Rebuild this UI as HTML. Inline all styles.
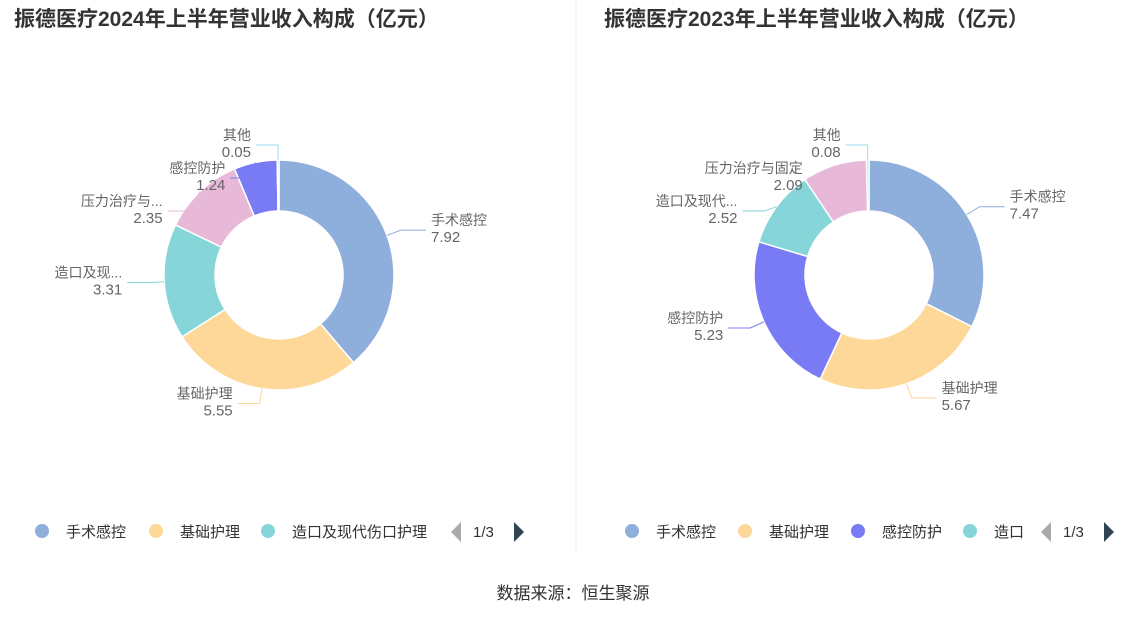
<!DOCTYPE html>
<html><head><meta charset="utf-8"><style>
body{margin:0;background:#fff;font-family:"Liberation Sans","Noto Sans CJK SC",sans-serif;}
svg{display:block}
</style></head><body>
<svg id="c" width="1147" height="619" font-family="Liberation Sans, Noto Sans CJK SC, sans-serif"></svg>
<script>
const cats2024 = ["手术感控","基础护理","造口及现代伤口护理","压力治疗与固定","感控防护","其他"];
const vals2024 = [7.92,5.55,3.31,2.35,1.24,0.05];
const short2024 = ["手术感控","基础护理","造口及现...","压力治疗与...","感控防护","其他"];
const cats2023 = ["手术感控","基础护理","感控防护","造口及现代伤口护理","压力治疗与固定","其他"];
const vals2023 = [7.47,5.67,5.23,2.52,2.09,0.08];
const short2023 = ["手术感控","基础护理","感控防护","造口及现代...","压力治疗与固定","其他"];
const colorMap = {"手术感控":"#8eaedc","基础护理":"#fdd899","造口及现代伤口护理":"#86d5d9","压力治疗与固定":"#e8b8d8","感控防护":"#797bf4","其他":"#9ddcef"};
const NS="http://www.w3.org/2000/svg";
const svg=document.getElementById('c');
function mk(t,a,p){const e=document.createElementNS(NS,t);for(const k in a)e.setAttribute(k,a[k]);(p||svg).appendChild(e);return e;}
// divider
const dv=mk('line',{x1:576,y1:0,x2:576,y2:550,stroke:'#eeeeee','stroke-width':1});


function txt(x,y,s,o){const t=mk('text',Object.assign({x:x,y:y,'font-size':14,fill:'#666'},o||{}));t.textContent=s;return t;}
function donut(cx,cy,cats,vals,shorts,name){
  const g=mk('g',{});
  
  
  const R=115,r=64,total=vals.reduce((a,b)=>a+b,0);
  let cum=0;const labs=[];
  vals.forEach((v,i)=>{
    const a0=cum/total*2*Math.PI,a1=(cum+v)/total*2*Math.PI;cum+=v;
    const P=(rad,a)=>[cx+rad*Math.sin(a),cy-rad*Math.cos(a)];
    const large=(a1-a0)>Math.PI?1:0;
    const [x0,y0]=P(R,a0),[x1,y1]=P(R,a1),[x2,y2]=P(r,a1),[x3,y3]=P(r,a0);
    const p=mk('path',{d:`M${x0},${y0}A${R},${R} 0 ${large} 1 ${x1},${y1}L${x2},${y2}A${r},${r} 0 ${large} 0 ${x3},${y3}Z`,fill:colorMap[cats[i]],stroke:'#fff','stroke-width':1.5},g);
    
    
    const am=(a0+a1)/2;const [ox,oy]=P(R,am);const [lx,ly]=P(R+15,am);
    labs.push({i,ox,oy,lx,ly,left:Math.sin(am)<0||am>Math.PI*1.9});
  });
  // overlap adjust per side, top-down
  [true,false].forEach(side=>{
    const L=labs.filter(l=>l.left===side).sort((a,b)=>a.ly-b.ly);
    for(let k=1;k<L.length;k++){if(L[k].ly<L[k-1].ly+33)L[k].ly=L[k-1].ly+33;}
  });
  labs.forEach(l=>{
    const c=colorMap[cats[l.i]];const ex=l.left?l.lx-22:l.lx+25;
    const pl=mk('polyline',{points:`${l.ox},${l.oy} ${l.lx},${l.ly} ${ex},${l.ly}`,fill:'none',stroke:c,'stroke-width':1},g);
    
    
    const tx=l.left?ex-5:ex+5,anc=l.left?'end':'start';
    const t1=txt(tx,l.ly-5,shorts[l.i],{'text-anchor':anc});
    
    
    const t2=txt(tx,l.ly+12,vals[l.i].toFixed(2),{'text-anchor':anc,'font-size':15});
    
    
  });
}
function title(x,s){const t=mk('text',{x:x,y:26,'font-size':21,'font-weight':'bold',fill:'#333'});t.textContent=s;

}
title(14,"振德医疗2024年上半年营业收入构成（亿元）");
title(604,"振德医疗2023年上半年营业收入构成（亿元）");
donut(279,275,cats2024,vals2024,short2024,'donut-2024');
donut(869,275,cats2023,vals2023,short2023,'donut-2023');
function legend(items,xs,arrowX){
  items.forEach((s,k)=>{
    const c=mk('circle',{cx:xs[k]-24,cy:531,r:7,fill:colorMap[s.cat]});
    
    
    const t=txt(xs[k],537,s.txt,{'font-size':15,fill:'#333'});
    
    
  });
  const a1=mk('path',{d:`M${arrowX+10},${522} L${arrowX},${532} L${arrowX+10},${542}Z`,fill:'#aaa'});
  
  
  const pg=txt(arrowX+22,537,'1/3',{'font-size':15,fill:'#333'});
  
  
  const a2=mk('path',{d:`M${arrowX+63},${522} L${arrowX+73},${532} L${arrowX+63},${542}Z`,fill:'#2f4554'});
  
  
}
legend([{cat:"手术感控",txt:"手术感控"},{cat:"基础护理",txt:"基础护理"},{cat:"造口及现代伤口护理",txt:"造口及现代伤口护理"}],[66,180,292],451);
legend([{cat:"手术感控",txt:"手术感控"},{cat:"基础护理",txt:"基础护理"},{cat:"感控防护",txt:"感控防护"},{cat:"造口及现代伤口护理",txt:"造口"}],[656,769,882,994],1041);
const src=txt(573,599,"数据来源：恒生聚源",{'font-size':17,fill:'#333','text-anchor':'middle'});


</script>
</body></html>
